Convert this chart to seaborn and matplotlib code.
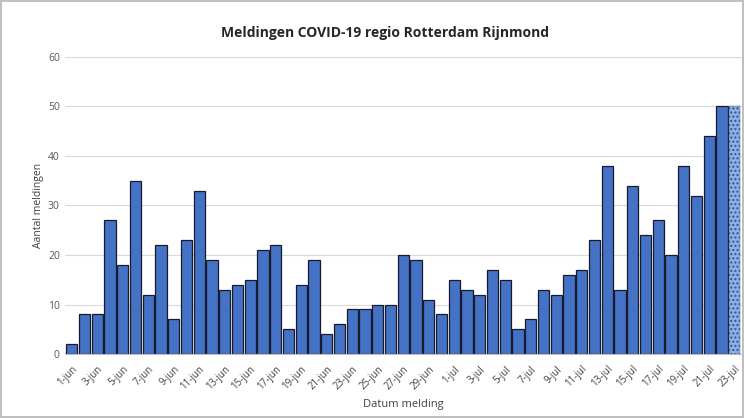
import numpy as np
import pandas as pd
import matplotlib.pyplot as plt
import seaborn as sns

# Data
juni = [2, 8, 8, 27, 18, 35, 12, 22, 7, 23, 33, 19, 13, 14, 15, 21, 22, 5, 14, 19,
        4, 6, 9, 9, 10, 10, 20, 19, 11, 8]
juli = [15, 13, 12, 17, 15, 5, 7, 13, 12, 16, 17, 23, 38, 13, 34, 24, 27, 20, 38, 32,
        44, 50, 50]
datums = [f"{d}-jun" for d in range(1, 31)] + [f"{d}-jul" for d in range(1, 24)]
meldingen = juni + juli

df = pd.DataFrame({"datum": datums, "meldingen": meldingen})

sns.set_style("white")
plt.rcParams['font.family'] = ['Open Sans', 'DejaVu Sans']

fig = plt.figure(figsize=(7.44, 4.18), dpi=100)
fig.patch.set_edgecolor('#bfbfbf')
fig.patch.set_linewidth(1.5)
ax = fig.add_axes([0.087, 0.153, 0.91, 0.711])

sns.barplot(data=df, x="datum", y="meldingen", color="#4472C4", saturation=1,
            edgecolor="#1a1a2e", linewidth=0.9, width=0.88, ax=ax)

# laatste dag (voorlopig) gearceerd
last = ax.patches[-1]
last.set_facecolor("#8fb0e0")
last.set_hatch("....")
last.set_edgecolor("#2f5597")
last.set_linewidth(0.3)

ax.set_ylim(0, 60)
ax.set_xlim(-0.55, len(datums) - 0.45)
ax.set_yticks(range(0, 61, 10))
ax.yaxis.grid(True, color="#d9d9d9", linewidth=0.8)
ax.set_axisbelow(True)
for s in ["top", "right", "left"]:
    ax.spines[s].set_visible(False)
ax.spines["bottom"].set_color("#bfbfbf")

ax.set_xticks(range(0, len(datums), 2))
ax.set_xticklabels(datums[::2], rotation=45, ha="right", rotation_mode="anchor",
                   fontsize=7, color="#404040")
ax.tick_params(axis="y", labelsize=7.5, colors="#595959", length=0)
ax.tick_params(axis="x", length=0, pad=7)

ax.set_xlabel("Datum melding", fontsize=8, color="#404040", labelpad=5)
ax.set_ylabel("Aantal meldingen", fontsize=7.5, color="#404040", labelpad=3)
fig.text(0.517, 0.92, "Meldingen COVID-19 regio Rotterdam Rijnmond", fontsize=10,
         fontweight="bold", color="#262626", ha="center", va="center")

fig.savefig("out.png", dpi=100)
